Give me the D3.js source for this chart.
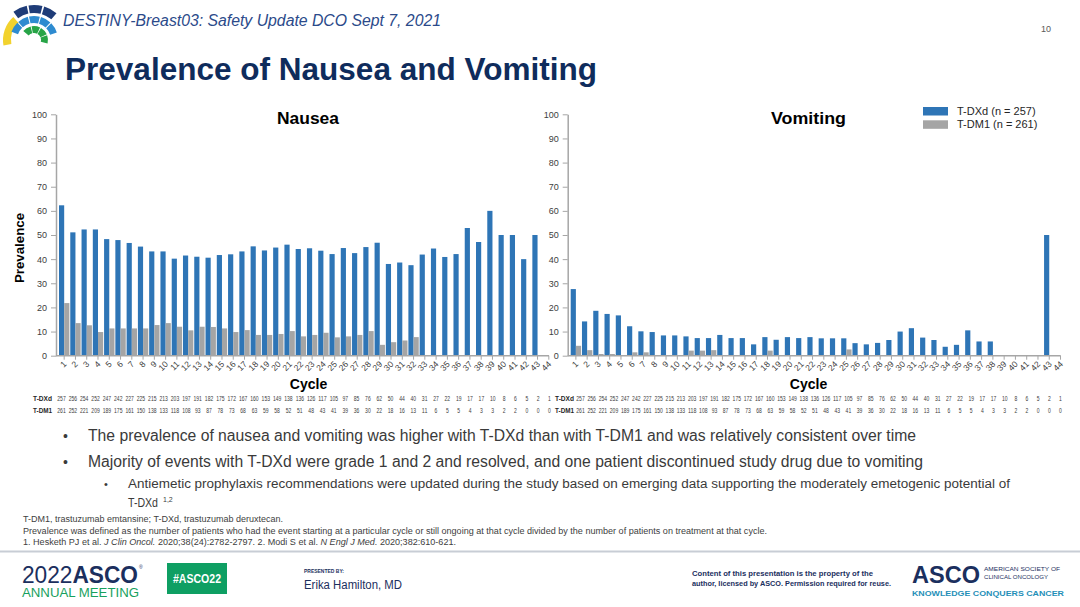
<!DOCTYPE html>
<html><head><meta charset="utf-8">
<script src="https://cdn.jsdelivr.net/npm/d3@7"></script>
<style>body{margin:0;background:#fff}svg{display:block;font-family:"Liberation Sans",Arial,sans-serif}</style>
</head><body><svg id="c" width="1080" height="607"></svg>
<script>
// ---------- DATA ----------
const cycles = ["1","2","3","4","5","6","7","8","9","10","11","12","13","14","15","16","17","18","19","20","21","22","23","24","25","26","27","28","29","30","31","32","33","34","35","36","37","38","39","40","41","42","43","44"];
const seriesNames = ["T-DXd (n = 257)", "T-DM1 (n = 261)"];
const yTicks = [0,10,20,30,40,50,60,70,80,90,100];
const nauseaTDXd = [62.3,51.1,52.3,52.3,48.3,47.9,46.7,45.2,43.2,43.2,40.2,41.5,41.0,40.6,41.7,42.0,43.2,45.3,43.6,44.8,46.0,44.2,44.5,43.5,42.1,44.6,42.5,45.0,46.8,38.0,38.6,37.5,41.9,44.4,40.9,42.1,52.9,47.1,60.0,50.0,50.0,40.0,50.0,0];
const nauseaTDM1 = [21.8,13.5,12.6,9.8,11.3,11.3,11.3,11.3,12.7,13.5,12.0,10.5,12.0,11.9,11.3,9.8,10.6,8.6,8.6,9.0,10.2,8.0,8.6,9.5,7.6,8.0,8.6,10.2,4.5,5.6,6.3,7.7,0,0,0,0,0,0,0,0,0,0,0,0];
const vomitTDXd = [27.6,14.2,18.6,17.3,16.7,12.2,10.1,9.8,8.4,8.4,8.0,7.3,7.3,8.6,7.3,7.3,4.7,7.7,6.6,7.7,7.3,7.7,7.2,7.2,7.2,5.2,4.7,5.3,6.5,10.0,11.4,7.5,6.5,3.7,4.5,10.5,5.9,5.9,0,0,0,0,50.0,0];
const vomitTDM1 = [4.1,2.3,0.7,0.7,0,1.4,1.4,0,0,0,2.1,2.1,2.3,0,0,0,0,2.1,0,0,0,0,0,0,2.6,0,0,0,0,0,0,0,0,0,0,0,0,0,0,0,0,0,0,0];
const atRiskTDXd = [257,256,254,252,247,242,227,225,215,213,203,197,191,182,175,172,167,160,153,149,138,136,126,117,105,97,85,76,62,50,44,40,31,27,22,19,17,17,10,8,6,5,2,1];
const atRiskTDM1 = [261,252,221,209,189,175,161,150,138,133,118,108,93,87,78,73,68,63,59,58,52,51,48,43,41,39,36,30,22,18,16,13,11,6,5,5,4,3,3,2,2,0,0,0];

const BLUE = "#2E75B6", GRAY = "#A5A5A5", AXIS = "#A6A6A6";
const svg = d3.select("#c");

// ---------- HEADER ----------
const logo = svg.append("g").attr("transform","translate(34,40)");
const arc = d3.arc();
const deg = Math.PI/180;
logo.append("path").attr("d", arc({innerRadius:23,outerRadius:31,startAngle:-100*deg,endAngle:-42*deg})).attr("fill","#F2D22E");
[[-36,-12],[-9,14],[17,40]].forEach(a=>logo.append("path").attr("d",arc({innerRadius:27,outerRadius:35,startAngle:a[0]*deg,endAngle:a[1]*deg})).attr("fill","#1F3C78"));
[[-70,-44],[-41,-15],[-12,14],[17,43],[46,72]].forEach(a=>logo.append("path").attr("d",arc({innerRadius:17,outerRadius:24,startAngle:a[0]*deg,endAngle:a[1]*deg})).attr("fill","#2E8BD0"));
[[-50,-14],[-10,26],[30,66],[70,104]].forEach(a=>logo.append("path").attr("d",arc({innerRadius:7,outerRadius:14,startAngle:a[0]*deg,endAngle:a[1]*deg})).attr("fill","#27A447"));

svg.append("text").attr("x",63).attr("y",26).attr("font-size",16).attr("font-style","italic")
  .attr("fill","#2B4A8A").attr("textLength",378).attr("lengthAdjust","spacingAndGlyphs")
  .text("DESTINY-Breast03: Safety Update DCO Sept 7, 2021");
svg.append("text").attr("x",1051).attr("y",32).attr("font-size",9).attr("text-anchor","end").attr("fill","#595959").text("10");
svg.append("text").attr("x",65).attr("y",80).attr("font-size",31).attr("font-weight","bold")
  .attr("fill","#0F2C5C").attr("textLength",532).attr("lengthAdjust","spacingAndGlyphs")
  .text("Prevalence of Nausea and Vomiting");

// ---------- PANELS ----------
const yTop = 114.3, yBot = 355.7;
const y = d3.scaleLinear().domain([0,100]).range([yBot, yTop]);

function panel(x0, title, titleX, titleW, tdxd, tdm1, cycleX, rowLabelX, numStart, numEnd) {
  const g = svg.append("g");
  const x = d3.scaleBand().domain(cycles).range([x0+3, x0+3+495]).paddingInner(0.08).paddingOuter(0);
  const sub = d3.scaleBand().domain(["a","b"]).range([0, x.bandwidth()]);
  const data = cycles.map((c,i)=>({c, a:tdxd[i], b:tdm1[i]}));
  g.selectAll(".bb").data(data.filter(d=>d.a>0)).join("rect")
    .attr("x",d=>x(d.c)+sub("a")).attr("width",sub.bandwidth())
    .attr("y",d=>y(d.a)).attr("height",d=>y(0)-y(d.a)).attr("fill",BLUE);
  g.selectAll(".gb").data(data.filter(d=>d.b>0)).join("rect")
    .attr("x",d=>x(d.c)+sub("b")).attr("width",sub.bandwidth())
    .attr("y",d=>y(d.b)).attr("height",d=>y(0)-y(d.b)).attr("fill",GRAY);
  const ya = g.append("g").attr("transform",`translate(${x0},0)`)
    .call(d3.axisLeft(y).tickValues(yTicks).tickSize(5).tickPadding(4).tickSizeOuter(0));
  ya.select(".domain").attr("stroke",AXIS).attr("stroke-width",1.5);
  ya.selectAll(".tick line").attr("stroke",AXIS);
  ya.selectAll("text").attr("font-size",9).attr("fill","#404040").attr("font-family","Liberation Sans, Arial, sans-serif");
  const xa = g.append("g").attr("transform",`translate(0,${yBot})`)
    .call(d3.axisBottom(x).tickSize(4).tickSizeOuter(0));
  xa.select(".domain").remove();
  g.append("line").attr("x1",x0).attr("x2",x0+493).attr("y1",yBot).attr("y2",yBot).attr("stroke",AXIS).attr("stroke-width",1.5);
  xa.selectAll(".tick line").attr("stroke",AXIS);
  xa.selectAll("text").attr("font-size",8.5).attr("fill","#404040").attr("font-family","Liberation Sans, Arial, sans-serif")
    .attr("text-anchor","end").attr("dy",null).attr("y",0)
    .attr("transform","translate(3,9) rotate(-45)");
  g.append("text").attr("x",titleX).attr("y",124).attr("font-size",17).attr("font-weight","bold").attr("fill","#000")
    .attr("textLength",titleW).attr("lengthAdjust","spacingAndGlyphs").text(title);
  g.append("text").attr("x",cycleX).attr("y",389).attr("text-anchor","middle").attr("font-size",14).attr("font-weight","bold").attr("fill","#000").text("Cycle");
  const px = d3.scalePoint().domain(cycles).range([numStart, numEnd]);
  [[atRiskTDXd,"T-DXd",401],[atRiskTDM1,"T-DM1",413]].forEach(([arr,lab,yy])=>{
    g.append("text").attr("x",rowLabelX).attr("y",yy).attr("font-size",6.5).attr("font-weight","bold").attr("fill","#262626")
      .attr("textLength",19).attr("lengthAdjust","spacingAndGlyphs").text(lab);
    g.selectAll(null).data(arr).join("text")
      .attr("x",(d,i)=>px(cycles[i])).attr("y",yy).attr("text-anchor","middle")
      .attr("font-size",6.3).attr("fill","#404040")
      .attr("textLength",d=>String(d).length*2.8).attr("lengthAdjust","spacingAndGlyphs")
      .text(d=>d);
  });
}
panel(56, "Nausea", 277, 62, nauseaTDXd, nauseaTDM1, 308.5, 33, 61.5, 549.5);
panel(567.7, "Vomiting", 771, 75, vomitTDXd, vomitTDM1, 808.5, 555, 580.5, 1060.5);

svg.append("text").attr("transform","translate(24,248) rotate(-90)").attr("text-anchor","middle")
  .attr("font-size",13.3).attr("font-weight","bold").attr("fill","#000").text("Prevalence");

const lg = svg.append("g");
seriesNames.forEach((s,i)=>{
  lg.append("rect").attr("x",923).attr("y",107+i*13.3).attr("width",25).attr("height",8.5).attr("fill",i?GRAY:BLUE);
  lg.append("text").attr("x",957).attr("y",115+i*13.3).attr("font-size",11).attr("fill","#262626").text(s);
});

// ---------- BULLETS ----------
const txt = "#3A3A3A";
function line(x,yv,size,w,s,fill,weight){
  return svg.append("text").attr("x",x).attr("y",yv).attr("font-size",size).attr("fill",fill||txt)
    .attr("font-weight",weight||"normal").attr("textLength",w).attr("lengthAdjust","spacingAndGlyphs").text(s);
}
svg.append("text").attr("x",63).attr("y",441).attr("font-size",14).attr("fill",txt).text("•");
line(88,441,16,828,"The prevalence of nausea and vomiting was higher with T-DXd than with T-DM1 and was relatively consistent over time");
svg.append("text").attr("x",63).attr("y",467).attr("font-size",14).attr("fill",txt).text("•");
line(88,467,16,835,"Majority of events with T-DXd were grade 1 and 2 and resolved, and one patient discontinued study drug due to vomiting");
svg.append("text").attr("x",104).attr("y",488).attr("font-size",11).attr("fill",txt).text("•");
line(128,488,12.5,882,"Antiemetic prophylaxis recommendations were updated during the study based on emerging data supporting the moderately emetogenic potential of");
line(128,506.5,12.5,30,"T-DXd");
svg.append("text").attr("x",163).attr("y",501.5).attr("font-size",7).attr("fill",txt).text("1,2");

// ---------- FOOTNOTES ----------
line(23,522,8.5,260,"T-DM1, trastuzumab  emtansine; T-DXd, trastuzumab  deruxtecan.","#404040");
line(23,533.5,8.5,744,"Prevalence was defined as the number of patients who had the event starting at a particular cycle or still ongoing at that cycle divided by the number of patients on treatment at that cycle.","#404040");
const f3 = svg.append("text").attr("x",23).attr("y",545).attr("font-size",8.5).attr("fill","#404040")
  .attr("textLength",433).attr("lengthAdjust","spacingAndGlyphs");
f3.append("tspan").text("1. Hesketh PJ et al. ");
f3.append("tspan").attr("font-style","italic").text("J Clin Oncol.");
f3.append("tspan").text(" 2020;38(24):2782-2797. 2. Modi S et al. ");
f3.append("tspan").attr("font-style","italic").text("N Engl J Med.");
f3.append("tspan").text(" 2020;382:610-621.");

// ---------- FOOTER ----------
svg.append("line").attr("x1",0).attr("x2",1080).attr("y1",551.5).attr("y2",551.5).attr("stroke","#C8CDD5").attr("stroke-width",2);
const a1 = svg.append("text").attr("x",22).attr("y",583).attr("font-size",23).attr("fill","#1B2F5E")
  .attr("textLength",116).attr("lengthAdjust","spacingAndGlyphs");
a1.append("tspan").text("2022");
a1.append("tspan").attr("font-weight","bold").text("ASCO");
svg.append("text").attr("x",139).attr("y",569).attr("font-size",5).attr("fill","#1B2F5E").text("®");
line(22,597,12.5,117,"ANNUAL MEETING","#17A05D");
svg.append("rect").attr("x",167).attr("y",563).attr("width",60).attr("height",31).attr("fill","#0E9F63");
svg.append("text").attr("x",197).attr("y",583).attr("text-anchor","middle").attr("font-size",12).attr("font-weight","bold").attr("fill","#fff")
  .attr("textLength",48).attr("lengthAdjust","spacingAndGlyphs").text("#ASCO22");
line(304,573,6,40,"PRESENTED BY:","#1B2F5E","bold");
line(304,589,12,98,"Erika Hamilton,  MD","#1B2F5E");
line(692,576,7,181,"Content of this presentation is the property of the","#1B2F5E","bold");
line(692,586,7,199,"author, licensed by ASCO. Permission required for reuse.","#1B2F5E","bold");
line(912,583,23,68,"ASCO","#1B2F5E","bold");
line(984,571,6,76,"AMERICAN SOCIETY OF","#1B2F5E");
line(984,579,6,64,"CLINICAL ONCOLOGY","#1B2F5E");
line(912,596,7.5,152,"KNOWLEDGE CONQUERS CANCER","#1F8FB8","bold");
</script></body></html>
